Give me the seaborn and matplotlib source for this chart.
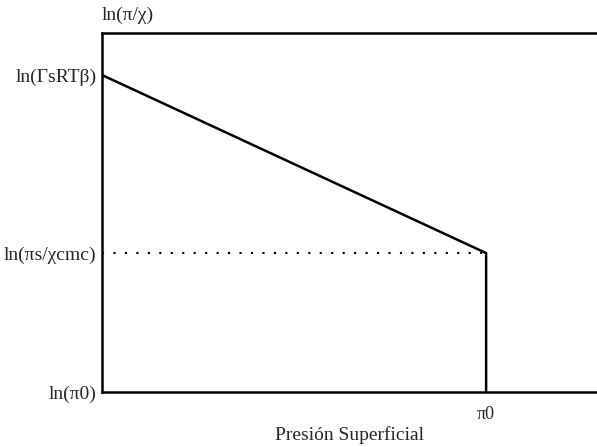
import matplotlib
matplotlib.use("Agg")
import matplotlib.pyplot as plt
import seaborn as sns
import pandas as pd

# Schematic values (axis fractions)
curve_x = [0.0, 0.776, 0.776]
curve_y = [0.883, 0.387, 0.0]
cmc_x = [0.0, 0.776]
cmc_y = [0.387, 0.387]

ytick_vals = [0.0, 0.387, 0.883]
ytick_labels = ["ln(π0)", "ln(πs/χcmc)", "ln(ΓsRTβ)"]
xtick_vals = [0.776]
xtick_labels = ["π0"]

sns.set_style("white")
plt.rcParams["font.family"] = ["Liberation Serif", "DejaVu Serif"]

fig = plt.figure(figsize=(5.97, 4.47), dpi=100)
ax = fig.add_axes([102 / 597, 1 - 392 / 447, 1 - 102 / 597, (392 - 33) / 447])

curve = pd.DataFrame({"x": curve_x, "y": curve_y})
cmc = pd.DataFrame({"x": cmc_x, "y": cmc_y})

sns.lineplot(data=curve, x="x", y="y", sort=False, estimator=None,
             errorbar=None, color="black", lw=1.8, ax=ax)
sns.lineplot(data=cmc, x="x", y="y", sort=False, estimator=None,
             errorbar=None, color="black", lw=1.5,
             linestyle=(0, (1, 4.5)), ax=ax)

ax.set_xlim(0, 1)
ax.set_ylim(0, 1)
ax.set_yticks(ytick_vals)
ax.set_yticklabels(ytick_labels, fontsize=14)
ax.set_xticks(xtick_vals)
ax.set_xticklabels(xtick_labels, fontsize=13)
ax.tick_params(length=0, pad=4)
ax.tick_params(axis="x", pad=10)

for side in ["left", "top", "bottom"]:
    ax.spines[side].set_color("black")
    ax.spines[side].set_linewidth(1.8)
ax.spines["right"].set_visible(False)

ax.set_xlabel("Presión Superficial", fontsize=14, labelpad=2)
ax.set_ylabel("")
ax.text(0.0, 1.025, "ln(π/χ)", transform=ax.transAxes, fontsize=14,
        ha="left", va="bottom")

fig.savefig("out.png", dpi=100)
